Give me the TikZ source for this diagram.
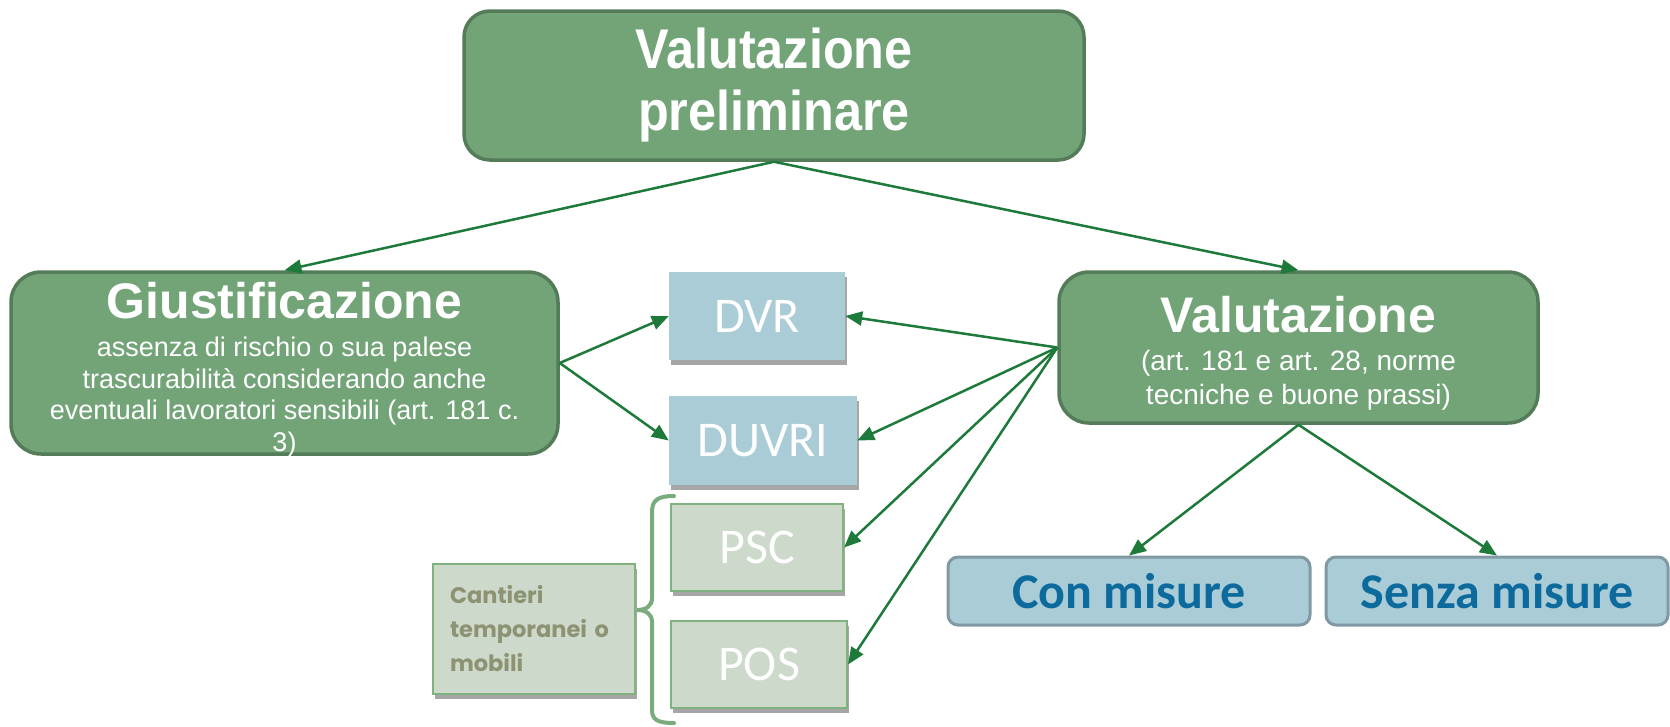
\documentclass[tikz,border=0pt]{standalone}
\usepackage{fontspec}
\setmainfont{Liberation Sans}
\newfontfamily\calfont{Carlito}
\newfontfamily\gothfont{Poppins}
\newfontfamily\narrowfont[FakeStretch=0.9]{Liberation Sans}
\usetikzlibrary{shadows,arrows.meta}
\definecolor{dgfill}{HTML}{72A478}
\definecolor{dgline}{HTML}{557C59}
\definecolor{arrowc}{HTML}{1E7A3A}
\definecolor{lblue}{HTML}{A9CCD6}
\definecolor{lbline}{HTML}{8099A2}
\definecolor{lgfill}{HTML}{CCD9CB}
\definecolor{lgline}{HTML}{7FB27F}
\definecolor{brc}{HTML}{7AAB7D}
\definecolor{cantc}{HTML}{8D9273}
\definecolor{cmtext}{HTML}{0C6A9D}
\begin{document}
\begin{tikzpicture}[x=1pt,y=-1pt,
  bigbox/.style={draw=dgline, line width=3.5pt, fill=dgfill, rounded corners=26pt, inner sep=0pt},
  softshadow/.style={drop shadow={shadow xshift=2pt, shadow yshift=-5pt, fill=black, opacity=0.35}},
  bluebox/.style={fill=lblue, softshadow, inner sep=0pt, text=white, font=\calfont\fontsize{50}{60}\selectfont},
  palebox/.style={fill=lgfill, draw=lgline, line width=2pt, softshadow, inner sep=0pt},
  misbox/.style={fill=lblue, draw=lbline, line width=3pt, rounded corners=10pt, inner sep=0pt, text=cmtext, font=\calfont\bfseries\fontsize{50}{56}\selectfont},
  conn/.style={draw=arrowc, line width=2.5pt, -{Triangle[length=17pt,width=14pt]}},
  wtitle/.style={text=white, font=\bfseries\fontsize{50}{50}\selectfont, inner sep=0pt},
  wsub/.style={text=white, align=center, inner sep=0pt}
]
\useasboundingbox[fill=white] (0,0) rectangle (1670,726);

\node[bigbox, minimum width=620pt, minimum height=149pt, text=white, align=center,
  font=\narrowfont\bfseries\fontsize{56}{62}\selectfont] (top) at (774,85.5) {Valutazione\\preliminare};

\node[bigbox, rounded corners=30pt, minimum width=547pt, minimum height=182pt] (giust) at (284.5,363) {};
\node[wtitle, anchor=base] (giusttitle) at (284.5,318) {Giustificazione};
\node[wsub, anchor=north, font=\fontsize{27}{31.5}\selectfont] (giustsub) at (284.5,337)
  {assenza di rischio o sua palese\\trascurabilità considerando anche\\eventuali lavoratori sensibili (art. 181 c.\\3)};

\node[bigbox, rounded corners=30pt, minimum width=479pt, minimum height=151pt] (valut) at (1298.5,347.5) {};
\node[wtitle, anchor=base] (valtitle) at (1298.5,332) {Valutazione};
\node[wsub, anchor=north, font=\fontsize{28}{34}\selectfont] (valsub) at (1298.5,350)
  {(art. 181 e art. 28, norme\\tecniche e buone prassi)};

\node[bluebox, minimum width=176pt, minimum height=88pt] (dvr) at (757,316) {DVR};
\node[bluebox, minimum width=188pt, minimum height=89pt] (duvri) at (763,440.5) {DUVRI};
\node[palebox, minimum width=172pt, minimum height=87pt, text=white, font=\calfont\fontsize{50}{60}\selectfont] (psc) at (757,547.5) {PSC};
\node[palebox, minimum width=176pt, minimum height=87pt, text=white, font=\calfont\fontsize{50}{60}\selectfont] (pos) at (759,664.5) {POS};

\node[palebox, minimum width=202pt, minimum height=130pt, text width=168pt, inner xsep=17pt, align=left,
  text=cantc, font=\gothfont\bfseries\fontsize{22.5}{34}\selectfont] (cant) at (534,629) {Cantieri\\temporanei o\\mobili};

\draw[brc, line width=4pt, line cap=round]
  (674,496) .. controls (658,496) and (652,500) .. (652,512) -- (652,598)
  .. controls (652,606) and (646,610) .. (637,610)
  .. controls (646,610) and (652,614) .. (652,622) -- (652,710)
  .. controls (652,720) and (658,723) .. (674,723);

\node[misbox, minimum width=362pt, minimum height=68pt] (con) at (1129,591) {Con misure};
\node[misbox, minimum width=342pt, minimum height=68pt] (senza) at (1497,591) {Senza misure};

\draw[conn] (top.south) -- (giust.north);
\draw[conn] (top.south) -- (valut.north);
\draw[conn] (giust.east) -- (dvr.west);
\draw[conn] (giust.east) -- (duvri.west);
\draw[conn] (valut.west) -- (dvr.east);
\draw[conn] (valut.west) -- (duvri.east);
\draw[conn] (valut.west) -- (psc.east);
\draw[conn] (valut.west) -- (pos.east);
\draw[conn] (valut.south) -- (con.north);
\draw[conn] (valut.south) -- (senza.north);
\end{tikzpicture}
\end{document}
